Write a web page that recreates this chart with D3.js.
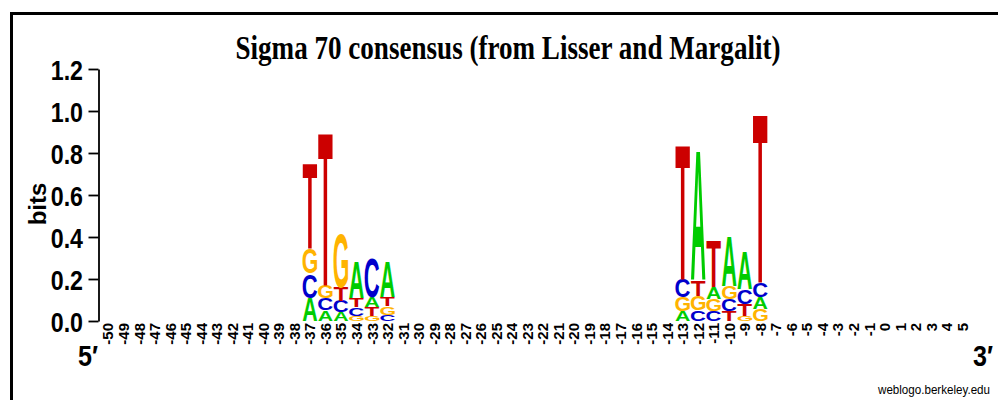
<!DOCTYPE html>
<html>
<head>
<meta charset="utf-8">
<script src="https://cdn.jsdelivr.net/npm/d3@7"></script>
<style>
  body { margin: 0; background: #fff; }
  svg { display: block; }
</style>
</head>
<body>
<svg id="chart" width="998" height="400"></svg>
<script>
// Sequence positions, 5' to 3'
const positions = d3.range(-50, 6);
const bases = ["A", "C", "G", "T"];

// Information (bits) carried by each base at each position, -50 .. 5
//               -50 .. -38                  -37 .. -32                               -31 .. -14                             -13 .. -8                                 -7 .. 5
const bitsA = [0,0,0,0,0,0,0,0,0,0,0,0,0,  0.110,0.050,0.040,0.170,0.048,0.166,  0,0,0,0,0,0,0,0,0,0,0,0,0,0,0,0,0,0,  0.048,0.620,0.058,0.233,0.176,0.058,  0,0,0,0,0,0,0,0,0,0,0,0,0];
const bitsC = [0,0,0,0,0,0,0,0,0,0,0,0,0,  0.115,0.058,0.055,0.040,0.190,0.030,  0,0,0,0,0,0,0,0,0,0,0,0,0,0,0,0,0,0,  0.086,0.050,0.048,0.057,0.071,0.071,  0,0,0,0,0,0,0,0,0,0,0,0,0];
const bitsG = [0,0,0,0,0,0,0,0,0,0,0,0,0,  0.120,0.065,0.260,0.025,0.025,0.040,  0,0,0,0,0,0,0,0,0,0,0,0,0,0,0,0,0,0,  0.066,0.070,0.056,0.062,0.025,0.056,  0,0,0,0,0,0,0,0,0,0,0,0,0];
const bitsT = [0,0,0,0,0,0,0,0,0,0,0,0,0,  0.410,0.730,0.065,0.045,0.040,0.042,  0,0,0,0,0,0,0,0,0,0,0,0,0,0,0,0,0,0,  0.646,0.075,0.225,0.048,0.057,0.805,  0,0,0,0,0,0,0,0,0,0,0,0,0];

const yTicks = [0, 0.2, 0.4, 0.6, 0.8, 1.0, 1.2];
const baseColors = { A: "#00cc00", C: "#0000cc", G: "#ffb300", T: "#cc0000" };

const svg = d3.select("#chart");
const SANS = "'Liberation Sans', Arial, Helvetica, sans-serif";
const SERIF = "'Liberation Serif', 'Times New Roman', serif";

// frame
svg.append("rect")
  .attr("x", 11.5).attr("y", 13.5)
  .attr("width", 1000).attr("height", 400)
  .attr("fill", "none").attr("stroke", "#000").attr("stroke-width", 3);

// title
svg.append("text")
  .attr("x", 508).attr("y", 59)
  .attr("text-anchor", "middle")
  .attr("font-family", SERIF).attr("font-weight", "bold").attr("font-size", 33)
  .attr("textLength", 545).attr("lengthAdjust", "spacingAndGlyphs")
  .text("Sigma 70 consensus (from Lisser and Margalit)");

// scales
const x = d3.scaleBand().domain(positions).range([100.2, 970]).padding(0);
const y = d3.scaleLinear().domain([0, 1.2]).range([321, 69]);

// y axis
const yAxis = svg.append("g")
  .attr("transform", "translate(98.5,0)")
  .call(d3.axisLeft(y).tickValues(yTicks).tickFormat(d3.format(".1f")).tickSize(10).tickSizeOuter(0));
yAxis.select(".domain").attr("stroke-width", 1.8);
yAxis.selectAll(".tick line").attr("stroke-width", 1.8);
const ySx = 0.86;
yAxis.selectAll(".tick text")
  .attr("font-family", SANS).attr("font-weight", "bold").attr("font-size", 27)
  .attr("fill", "#000")
  .attr("x", -15.5 / ySx).attr("dy", "0.40em")
  .attr("transform", `scale(${ySx},1)`);
yAxis.attr("font-family", null).attr("font-size", null);

svg.append("text")
  .attr("transform", "translate(46,204) rotate(-90)")
  .attr("text-anchor", "middle")
  .attr("font-family", SANS).attr("font-weight", "bold").attr("font-size", 24)
  .text("bits");

// x axis: position numbers, rotated
const xAxis = svg.append("g")
  .attr("transform", "translate(0,323)")
  .call(d3.axisBottom(x).tickSize(0).tickPadding(0));
xAxis.select(".domain").remove();
xAxis.selectAll(".tick text")
  .attr("font-family", SANS).attr("font-weight", "bold").attr("font-size", 15)
  .attr("fill", "#000")
  .attr("y", 0).attr("dy", null)
  .attr("text-anchor", "end")
  .attr("dominant-baseline", "central")
  .attr("transform", "rotate(-90)");

// 5' / 3' end markers
svg.append("text").attr("x", 78).attr("y", 366)
  .attr("font-family", SANS).attr("font-weight", "bold").attr("font-size", 30)
  .attr("textLength", 20).attr("lengthAdjust", "spacingAndGlyphs")
  .text("5\u2032");
svg.append("text").attr("x", 973).attr("y", 366)
  .attr("font-family", SANS).attr("font-weight", "bold").attr("font-size", 30)
  .attr("textLength", 20).attr("lengthAdjust", "spacingAndGlyphs")
  .text("3\u2032");

svg.append("text").attr("x", 990).attr("y", 394)
  .attr("text-anchor", "end")
  .attr("font-family", SANS).attr("font-size", 13)
  .attr("textLength", 112).attr("lengthAdjust", "spacingAndGlyphs")
  .text("weblogo.berkeley.edu");

// glyph ink metrics so each letter can be stretched to fill its box
const FS = 100;
const ctx = document.createElement("canvas").getContext("2d");
ctx.font = `bold ${FS}px "Liberation Sans"`;
const ink = {};
bases.forEach(b => {
  const m = ctx.measureText(b);
  ink[b] = { l: -m.actualBoundingBoxLeft, r: m.actualBoundingBoxRight,
             t: -m.actualBoundingBoxAscent, b: m.actualBoundingBoxDescent };
});

// stacks: smallest at the bottom, largest on top
const series = { A: bitsA, C: bitsC, G: bitsG, T: bitsT };
const stacks = positions.map((p, i) => {
  const items = bases.map(b => ({ base: b, bits: series[b][i] }))
    .filter(d => d.bits > 0)
    .sort((a, b) => a.bits - b.bits);
  let acc = 0;
  items.forEach(d => { d.y0 = acc; acc += d.bits; d.y1 = acc; d.pos = p; });
  return items;
}).flat();

const padX = 0.5;
svg.append("g").selectAll("text.letter")
  .data(stacks)
  .join("text")
  .attr("class", "letter")
  .attr("font-family", SANS).attr("font-weight", "bold").attr("font-size", FS)
  .attr("fill", d => baseColors[d.base])
  .attr("transform", d => {
    const g = ink[d.base];
    const w = x.bandwidth() - 2 * padX;
    const top = y(d.y1), h = y(d.y0) - y(d.y1);
    const sx = w / (g.r - g.l), sy = h / (g.b - g.t);
    return `translate(${x(d.pos) + padX},${top}) scale(${sx},${sy}) translate(${-g.l},${-g.t})`;
  })
  .text(d => d.base);
</script>
</body>
</html>
